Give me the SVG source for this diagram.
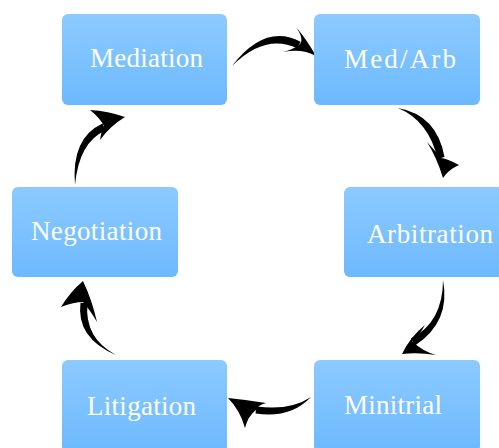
<svg xmlns="http://www.w3.org/2000/svg" width="499" height="448" viewBox="0 0 499 448">
<defs>
<linearGradient id="g" x1="0" y1="0" x2="0" y2="1">
<stop offset="0" stop-color="#8ccaff"/>
<stop offset="1" stop-color="#6db9fe"/>
</linearGradient>
<style>
.box{fill:url(#g);}
.lbl{font-family:"Liberation Serif","DejaVu Serif",serif;font-size:27px;fill:#ffffff;}
.arr{fill:#000000;}
</style>
</defs>
<rect width="499" height="448" fill="#ffffff"/>
<g id="connectors">
<g id="a1"><path class="arr" d="M232,66 Q265,23 300.6,41.7 L297.4,48.3 Q265,33 232,66 Z"/><path class="arr" d="M316,56 Q307,40 296,27 Q305,40 299,45 Q292,50 283,52 Q302,48 316,56 Z"/></g>
<g id="a2"><path class="arr" d="M398,108 Q437,115 444.5,157 L437.5,159 Q429,121 398,108 Z"/><path class="arr" d="M443,178 Q437,158 427,142 Q437,153 441,158 Q448,159 459,165 Q448,170 443,178 Z"/></g>
<g id="a3"><path class="arr" d="M443,280 Q451,322 415,345.5 L411,338.5 Q443,322 443,280 Z"/><path class="arr" d="M402,354 Q410,337 425,325 Q419,336 412,341 Q422,351 436,355 Q418,352 402,354 Z"/></g>
<g id="a4"><path class="arr" d="M311,397 Q290,411 256.5,406.5 L255.5,413.5 Q290,419 311,397 Z"/><path class="arr" d="M228,398 Q248,400 266,403 Q258,405 256,410 Q248,416 245,428 Q240,410 228,398 Z"/></g>
<g id="a5"><path class="arr" d="M116,355 Q84,338 87.5,303.3 L80.5,302.7 Q76,338 116,355 Z"/><path class="arr" d="M83,281 Q70,292 61,307 Q74,302 83,302 Q90,310 97,322 Q92,300 83,281 Z"/></g>
<g id="a6"><path class="arr" d="M75,185 Q79,142 105.5,130.5 L102.5,123.5 Q71,138 75,185 Z"/><path class="arr" d="M125,117 Q108,111 90,110 Q100,118 104,126 Q101,132 100,140 Q110,126 125,117 Z"/></g>
</g>
<g id="mediation"><rect class="box" x="62" y="14" width="165" height="91" rx="6"/><text class="lbl" x="90" y="67" textLength="113" lengthAdjust="spacing">Mediation</text></g>
<g id="medarb"><rect class="box" x="314" y="14" width="166" height="91" rx="6"/><text class="lbl" x="344" y="68" textLength="112" lengthAdjust="spacing">Med/Arb</text></g>
<g id="negotiation"><rect class="box" x="12" y="187" width="166" height="90" rx="6"/><text class="lbl" x="31" y="240" textLength="131" lengthAdjust="spacing">Negotiation</text></g>
<g id="arbitration"><rect class="box" x="344" y="187" width="160" height="90" rx="6"/><text class="lbl" x="367" y="243" textLength="126" lengthAdjust="spacing">Arbitration</text></g>
<g id="litigation"><rect class="box" x="62" y="360" width="165" height="92" rx="6"/><text class="lbl" x="87" y="415" textLength="109" lengthAdjust="spacing">Litigation</text></g>
<g id="minitrial"><rect class="box" x="314" y="360" width="166" height="92" rx="6"/><text class="lbl" x="344" y="414" textLength="98" lengthAdjust="spacing">Minitrial</text></g>
</svg>
